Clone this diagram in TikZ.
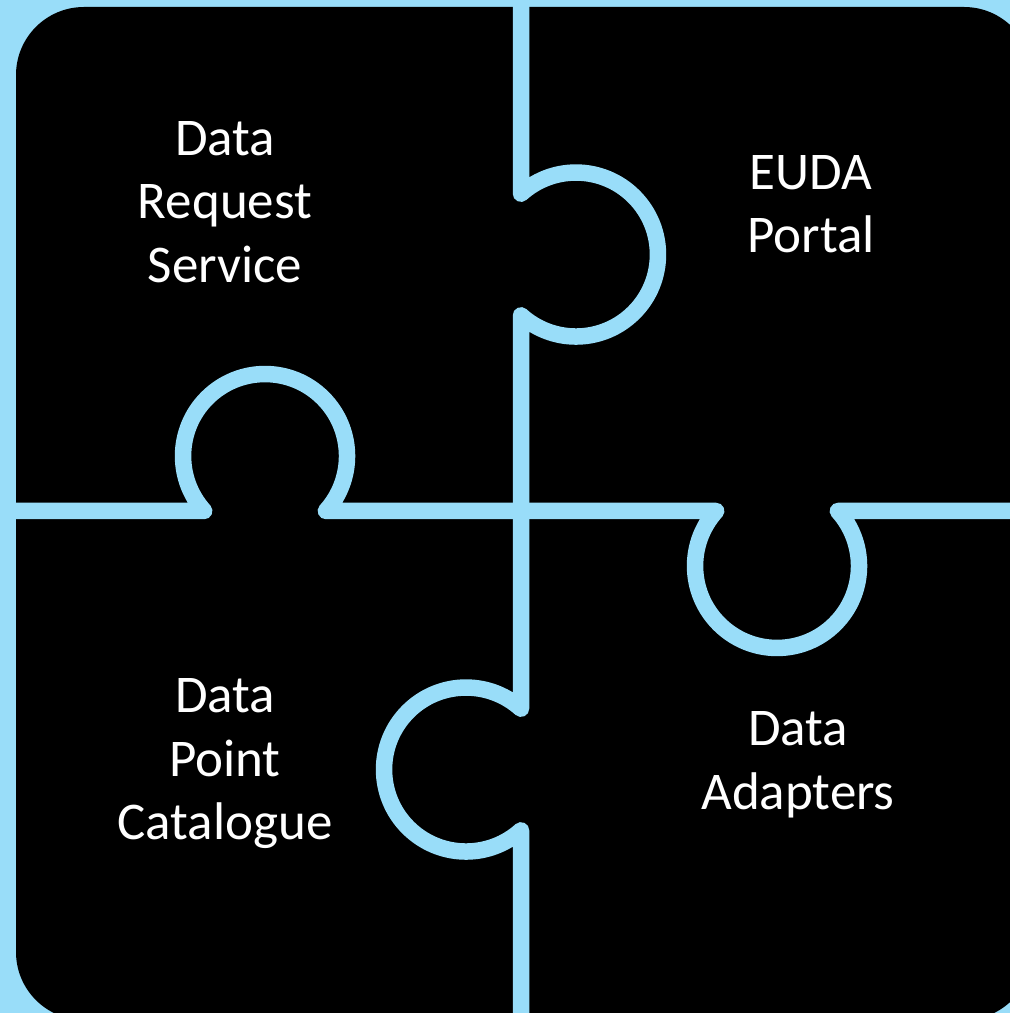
\documentclass[tikz,border=0pt]{standalone}
\usepackage{fontspec}
\setmainfont{Carlito}
\definecolor{puzzleblue}{RGB}{153,221,249}
\begin{document}
\begin{tikzpicture}[x=1pt,y=1pt,
  gap/.style={draw=puzzleblue,line width=16.5pt,line cap=round,line join=round},
  label/.style={text=white,align=center,inner sep=0pt,font=\fontsize{53}{63.5}\selectfont}]
\useasboundingbox (0,0) rectangle (1010,1013);
\clip (0,0) rectangle (1010,1013);
\fill[puzzleblue] (0,0) rectangle (1010,1013);
\fill[black,rounded corners=68pt] (16,-7) rectangle (1032,1006);
% vertical seam with two knobs
\draw[gap] (521,1030) -- (521,819.3)
  arc[start angle=132.1,end angle=-132.1,radius=82]
  -- (521,304.3)
  arc[start angle=47.9,end angle=312.1,radius=82]
  -- (521,-20);
% horizontal seam with two knobs
\draw[gap] (-10,502) -- (204.2,502)
  arc[start angle=222.1,end angle=-42.1,radius=82]
  -- (716.2,502)
  arc[start angle=137.9,end angle=402.1,radius=82]
  -- (1030,502);
\node[label] (drs) at (225,811) {Data\\Request\\Service};
\node[label] (eudap) at (811,809) {EUDA\\Portal};
\node[label] (dpc) at (225,249) {Data\\Point\\Catalogue};
\node[label] (dad) at (798,248) {Data\\Adapters};
\end{tikzpicture}
\end{document}
